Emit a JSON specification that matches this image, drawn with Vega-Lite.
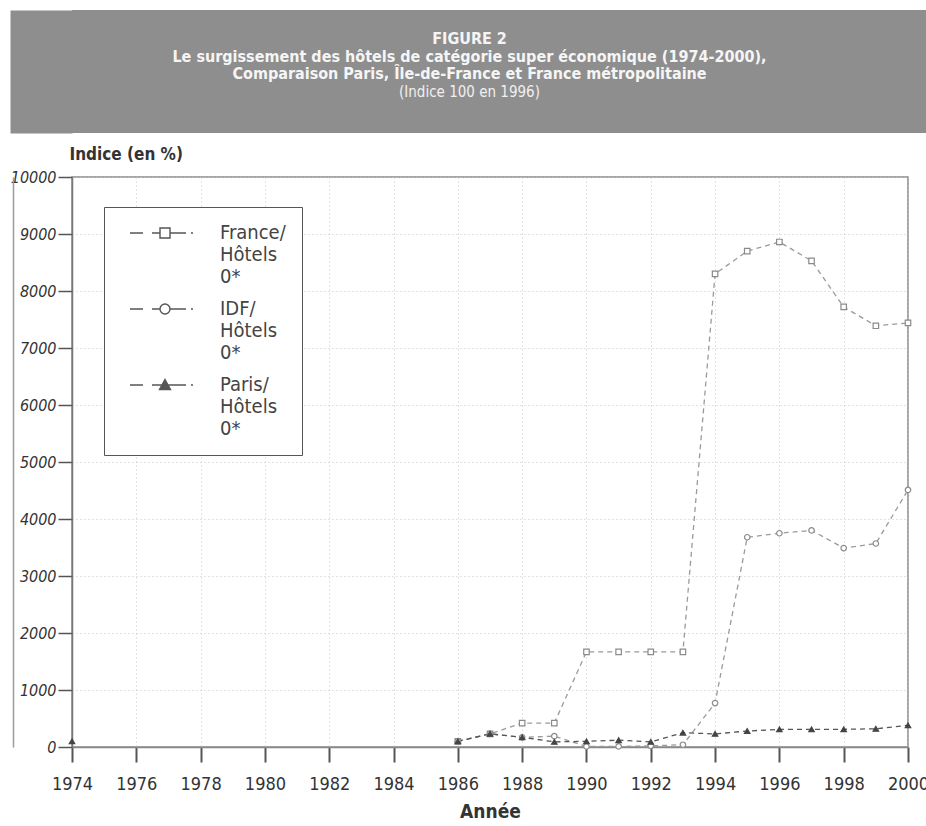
{
  "$schema": "https://vega.github.io/schema/vega-lite/v6.json",
  "padding": {"left": 9, "top": 10, "right": 0, "bottom": 0},
  "background": "white",
  "spacing": 11,
  "config": {
    "font": "Liberation Sans Narrow, DejaVu Sans Condensed, Liberation Sans, sans-serif",
    "view": {"stroke": null}
  },
  "resolve": {"legend": {"shape": "independent"}},
  "datasets": {
    "titre": [
      {"ligne": 1, "texte": "FIGURE 2"},
      {"ligne": 2, "texte": "Le surgissement des hôtels de catégorie super économique (1974-2000),"},
      {"ligne": 3, "texte": "Comparaison Paris, Île-de-France et France métropolitaine"},
      {"ligne": 4, "texte": "(Indice 100 en 1996)"}
    ],
    "indices": [
      {"annee": 1986, "serie": "France/ Hôtels 0*", "indice": 100},
      {"annee": 1987, "serie": "France/ Hôtels 0*", "indice": 230},
      {"annee": 1988, "serie": "France/ Hôtels 0*", "indice": 420},
      {"annee": 1989, "serie": "France/ Hôtels 0*", "indice": 420},
      {"annee": 1990, "serie": "France/ Hôtels 0*", "indice": 1670},
      {"annee": 1991, "serie": "France/ Hôtels 0*", "indice": 1670},
      {"annee": 1992, "serie": "France/ Hôtels 0*", "indice": 1670},
      {"annee": 1993, "serie": "France/ Hôtels 0*", "indice": 1670},
      {"annee": 1994, "serie": "France/ Hôtels 0*", "indice": 8300},
      {"annee": 1995, "serie": "France/ Hôtels 0*", "indice": 8700},
      {"annee": 1996, "serie": "France/ Hôtels 0*", "indice": 8860},
      {"annee": 1997, "serie": "France/ Hôtels 0*", "indice": 8530},
      {"annee": 1998, "serie": "France/ Hôtels 0*", "indice": 7720},
      {"annee": 1999, "serie": "France/ Hôtels 0*", "indice": 7390},
      {"annee": 2000, "serie": "France/ Hôtels 0*", "indice": 7440},
      {"annee": 1986, "serie": "IDF/ Hôtels 0*", "indice": 100},
      {"annee": 1987, "serie": "IDF/ Hôtels 0*", "indice": 230},
      {"annee": 1988, "serie": "IDF/ Hôtels 0*", "indice": 170},
      {"annee": 1989, "serie": "IDF/ Hôtels 0*", "indice": 190},
      {"annee": 1990, "serie": "IDF/ Hôtels 0*", "indice": 10},
      {"annee": 1991, "serie": "IDF/ Hôtels 0*", "indice": 10},
      {"annee": 1992, "serie": "IDF/ Hôtels 0*", "indice": 20},
      {"annee": 1993, "serie": "IDF/ Hôtels 0*", "indice": 40},
      {"annee": 1994, "serie": "IDF/ Hôtels 0*", "indice": 770},
      {"annee": 1995, "serie": "IDF/ Hôtels 0*", "indice": 3680},
      {"annee": 1996, "serie": "IDF/ Hôtels 0*", "indice": 3750},
      {"annee": 1997, "serie": "IDF/ Hôtels 0*", "indice": 3800},
      {"annee": 1998, "serie": "IDF/ Hôtels 0*", "indice": 3490},
      {"annee": 1999, "serie": "IDF/ Hôtels 0*", "indice": 3570},
      {"annee": 2000, "serie": "IDF/ Hôtels 0*", "indice": 4510},
      {"annee": 1974, "serie": "Paris/ Hôtels 0*", "indice": 100},
      {"annee": 1986, "serie": "Paris/ Hôtels 0*", "indice": 100},
      {"annee": 1987, "serie": "Paris/ Hôtels 0*", "indice": 230},
      {"annee": 1988, "serie": "Paris/ Hôtels 0*", "indice": 170},
      {"annee": 1989, "serie": "Paris/ Hôtels 0*", "indice": 90},
      {"annee": 1990, "serie": "Paris/ Hôtels 0*", "indice": 100},
      {"annee": 1991, "serie": "Paris/ Hôtels 0*", "indice": 120},
      {"annee": 1992, "serie": "Paris/ Hôtels 0*", "indice": 90},
      {"annee": 1993, "serie": "Paris/ Hôtels 0*", "indice": 250},
      {"annee": 1994, "serie": "Paris/ Hôtels 0*", "indice": 230},
      {"annee": 1995, "serie": "Paris/ Hôtels 0*", "indice": 280},
      {"annee": 1996, "serie": "Paris/ Hôtels 0*", "indice": 310},
      {"annee": 1997, "serie": "Paris/ Hôtels 0*", "indice": 310},
      {"annee": 1998, "serie": "Paris/ Hôtels 0*", "indice": 310},
      {"annee": 1999, "serie": "Paris/ Hôtels 0*", "indice": 320},
      {"annee": 2000, "serie": "Paris/ Hôtels 0*", "indice": 380}
    ]
  },
  "vconcat": [
    {
      "width": 855,
      "height": 123,
      "view": {"fill": "#8e8e8e", "stroke": null},
      "data": {"name": "titre"},
      "encoding": {
        "y": {
          "field": "ligne", "type": "quantitative",
          "scale": {"domain": [-0.64, 6.32], "reverse": true, "nice": false, "zero": false},
          "axis": {"orient": "left", "offset": 31, "domainWidth": 62, "domainColor": "#8e8e8e", "ticks": false, "labels": false, "grid": false, "title": null}
        },
        "text": {"field": "texte"}
      },
      "layer": [
        {
          "transform": [{"filter": "datum.ligne <= 3"}],
          "mark": {"type": "text", "fontWeight": "bold", "fontSize": 16, "color": "#f5f5f5", "baseline": "middle", "dx": -30}
        },
        {
          "transform": [{"filter": "datum.ligne == 4"}],
          "mark": {"type": "text", "fontWeight": "normal", "fontSize": 15, "color": "#f0f0f0", "baseline": "middle", "dx": -30}
        }
      ]
    },
    {
      "width": 836,
      "height": 570,
      "view": {"stroke": "#8a8a8a", "strokeWidth": 1.5},
      "data": {"name": "indices"},
      "layer": [
        {
          "transform": [{"filter": "datum.annee >= 1986"}],
          "mark": {"type": "line", "strokeDash": [5, 4], "strokeWidth": 1.3},
          "encoding": {
            "x": {
              "field": "annee", "type": "quantitative",
              "scale": {"domain": [1974, 2000], "nice": false, "zero": false},
              "axis": {
                "values": [1974, 1975, 1976, 1977, 1978, 1979, 1980, 1981, 1982, 1983, 1984, 1985, 1986, 1987, 1988, 1989, 1990, 1991, 1992, 1993, 1994, 1995, 1996, 1997, 1998, 1999, 2000],
                "format": "d",
                "labelExpr": "datum.value % 2 == 0 ? datum.label : ''",
                "tickOpacity": {"condition": {"test": "datum.value % 2 != 0", "value": 0}, "value": 1},
                "tickSize": 15, "tickWidth": 2, "tickColor": "#555555",
                "labelPadding": 13, "labelFontSize": 18, "labelColor": "#333333",
                "labelOverlap": false, "labelFlush": false,
                "domainColor": "#888888", "domainWidth": 1.5,
                "grid": true, "gridColor": "#c4c4c4", "gridDash": [1, 3], "gridWidth": 1,
                "title": "Année", "titleFontSize": 19, "titleFontWeight": "bold", "titleColor": "#333333", "titlePadding": 9
              }
            },
            "y": {
              "field": "indice", "type": "quantitative",
              "scale": {"domain": [0, 10000], "nice": false},
              "axis": {
                "values": [0, 1000, 2000, 3000, 4000, 5000, 6000, 7000, 8000, 9000, 10000],
                "format": "d",
                "labelFontStyle": "italic", "labelFontSize": 16, "labelColor": "#333333",
                "tickSize": 14, "tickWidth": 1.5, "tickColor": "#555555", "labelPadding": 2,
                "domainColor": "#777777", "domainWidth": 1.5,
                "grid": true, "gridColor": "#c4c4c4", "gridDash": [1, 3], "gridWidth": 1,
                "title": "Indice (en %)", "titleAngle": 0, "titleAlign": "left", "titleBaseline": "middle",
                "titleX": -3, "titleY": -23, "titleFontSize": 17, "titleFontWeight": "bold", "titleColor": "#333333"
              }
            },
            "detail": {"field": "serie"},
            "color": {"condition": {"test": "datum.serie == 'Paris/ Hôtels 0*'", "value": "#555555"}, "value": "#9a9a9a"}
          }
        },
        {
          "mark": {"type": "point", "filled": false, "strokeWidth": 1.2, "size": 30, "opacity": 1},
          "encoding": {
            "x": {"field": "annee", "type": "quantitative"},
            "y": {"field": "indice", "type": "quantitative", "axis": null},
            "stroke": {"condition": {"test": "datum.serie == 'Paris/ Hôtels 0*'", "value": "#444444"}, "value": "#8a8a8a"},
            "fill": {"condition": {"test": "datum.serie == 'Paris/ Hôtels 0*'", "value": "#444444"}, "value": "#ffffff"},
            "shape": {
              "field": "serie", "type": "nominal",
              "scale": {"domain": ["France/ Hôtels 0*", "IDF/ Hôtels 0*", "Paris/ Hôtels 0*"], "range": ["square", "circle", "triangle-up"]},
              "legend": null
            }
          }
        },
        {
          "mark": {"type": "point", "filled": false, "opacity": 0, "size": 100},
          "encoding": {
            "x": {"field": "annee", "type": "quantitative"},
            "y": {"field": "indice", "type": "quantitative", "axis": null},
            "shape": {
              "field": "serie", "type": "nominal",
              "scale": {
                "domain": ["France/ Hôtels 0*", "IDF/ Hôtels 0*", "Paris/ Hôtels 0*"],
                "range": [
                  "M0,0H2.6M4.4,0H6M6,-1H8V1H6ZM8,0H11.2M12.2,0H12.6",
                  "M0,0H2.6M4.4,0H6M6,0A1,1,0,1,0,8,0A1,1,0,1,0,6,0ZM8,0H11.2M12.2,0H12.6",
                  "M0,0H2.6M4.4,0H6.4M7,-1.1L8.1,0.9H5.9ZM6.725,-0.6H7.275M6.56,-0.3H7.44M6.395,0H7.605M6.23,0.3H7.77M6.065,0.6H7.935M7.6,0H11.2M12.2,0H12.6"
                ]
              },
              "legend": {
                "title": null,
                "orient": "none", "legendX": 32, "legendY": 30,
                "padding": 16, "strokeColor": "#555555", "fillColor": "#ffffff",
                "labelFontSize": 20, "labelColor": "#444444",
                "labelExpr": "split(datum.label, ' ')",
                "labelLimit": 300, "labelOffset": 80, "rowPadding": 12,
                "symbolSize": 100, "symbolOpacity": 1, "symbolStrokeWidth": 1.4,
                "symbolFillColor": "#ffffff", "symbolStrokeColor": "#555555",
                "labelBaseline": "middle"
              }
            }
          }
        },
        {
          "mark": {"type": "point", "opacity": 0},
          "encoding": {
            "x": {"field": "annee", "type": "quantitative"},
            "y": {
              "field": "indice", "type": "quantitative",
              "axis": {"orient": "left", "offset": 59, "domainColor": "#9a9a9a", "domainWidth": 1.5, "ticks": false, "labels": false, "grid": false, "title": null}
            }
          }
        }
      ],
      "resolve": {
        "axis": {"y": "independent"},
        "scale": {"shape": "independent"},
        "legend": {"shape": "independent"}
      }
    }
  ]
}
